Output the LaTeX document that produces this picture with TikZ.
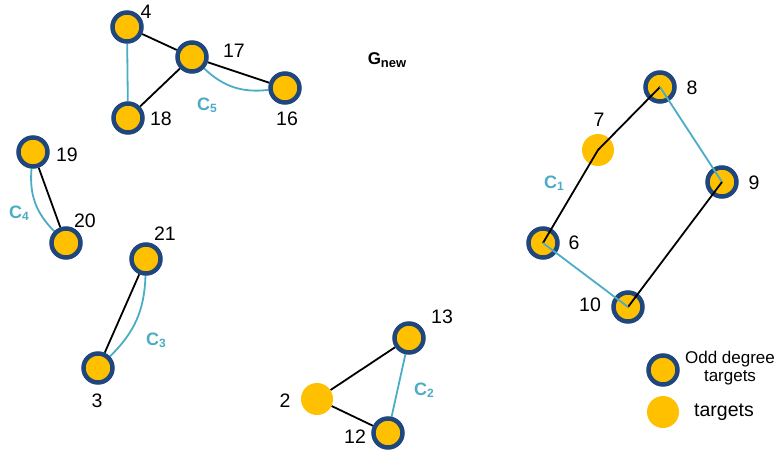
\documentclass[tikz,border=0pt]{standalone}
\usepackage{fontspec}
\setmainfont{Liberation Sans}
\usetikzlibrary{backgrounds}
\definecolor{tgtfill}{HTML}{FFC000}
\definecolor{oddring}{HTML}{1F477D}
\definecolor{cyc}{HTML}{4BACC6}
\newcommand{\cycsub}[1]{\raisebox{-0.2ex}{\fontsize{12}{12}\selectfont #1}}
\tikzset{
  odd/.style={circle, fill=tgtfill, draw=oddring, line width=4.5pt, minimum size=29pt, inner sep=0pt},
  tgt/.style={circle, fill=tgtfill, minimum size=32pt, inner sep=0pt},
  num/.style={font=\fontsize{19.5}{19.5}\selectfont, inner sep=0pt},
  clab/.style={font=\fontsize{18}{18}\selectfont\bfseries, text=cyc, inner sep=0pt},
  blk/.style={draw=black, line width=1.8pt},
  cyl/.style={draw=cyc, line width=1.8pt}
}
\begin{document}
\begin{tikzpicture}[x=1pt,y=-1pt]
\useasboundingbox (0,0) rectangle (784,465);

% component 5
\node[odd] (n4) at (127,27) {};
\node[odd] (n17) at (192,57) {};
\node[odd] (n16) at (285,88) {};
\node[odd] (n18) at (128,118) {};
% component 4
\node[odd] (n19) at (33,152) {};
\node[odd] (n20) at (66,243) {};
% component 3
\node[odd] (n21) at (146,259) {};
\node[odd] (n3) at (98,368) {};
% component 2
\node[tgt] (n2) at (317,399) {};
\node[odd] (n13) at (409,338) {};
\node[odd] (n12) at (388,433) {};
% component 1
\node[odd] (n8) at (660,87) {};
\node[tgt] (n7) at (598,150) {};
\node[odd] (n9) at (722,182) {};
\node[odd] (n6) at (543,243) {};
\node[odd] (n10) at (628,307) {};

\begin{pgfonlayer}{background}
  \draw[blk] (n4) -- (n17);
  \draw[blk] (n17) -- (n18);
  \draw[blk] (n17) -- (n16);
  \draw[cyl] (n4) -- (n18);
  \draw[cyl] (n17) to[bend right=25] (n16);
  \draw[blk] (n19) -- (n20);
  \draw[cyl] (n19) to[bend right=25] (n20);
  \draw[blk] (n21) -- (n3);
  \draw[cyl] (n21) to[bend left=22] (n3);
  \draw[blk] (n2) -- (n13);
  \draw[blk] (n2) -- (n12);
  \draw[cyl] (n13) -- (n12);
\end{pgfonlayer}

% cycle C1 drawn over its nodes
\draw[blk] (n6.center) -- (n7.center) -- (n8.center);
\draw[cyl] (n8.center) -- (n9.center);
\draw[blk] (n9.center) -- (n10.center);
\draw[cyl] (n10.center) -- (n6.center);

% vertex numbers
\node[num] (l4) at (146,12) {4};
\node[num] (l17) at (234,51) {17};
\node[num] (l16) at (287,119) {16};
\node[num] (l18) at (161,119) {18};
\node[num] (l19) at (67,155) {19};
\node[num] (l20) at (85,221) {20};
\node[num] (l21) at (165,234) {21};
\node[num] (l3) at (97,401) {3};
\node[num] (l2) at (285,401) {2};
\node[num] (l13) at (442,317) {13};
\node[num] (l12) at (355,437) {12};
\node[num] (l7) at (599,120) {7};
\node[num] (l8) at (692,88) {8};
\node[num] (l9) at (754,183) {9};
\node[num] (l6) at (574,243) {6};
\node[num] (l10) at (590,305) {10};

% cycle names
\node[clab] (c5) at (207,105) {C\cycsub{5}};
\node[clab] (c4) at (19,213) {C\cycsub{4}};
\node[clab] (c3) at (156,340) {C\cycsub{3}};
\node[clab] (c2) at (424,390) {C\cycsub{2}};
\node[clab] (c1) at (554,183) {C\cycsub{1}};

% title
\node[font=\fontsize{17}{17}\selectfont\bfseries, inner sep=0pt] (title) at (387,60) {G\raisebox{-0.35ex}{\fontsize{13}{13}\selectfont new}};

% legend
\node[odd] (legodd) at (663,370) {};
\node[tgt] (legtgt) at (663,412) {};
\node[font=\fontsize{17}{18.5}\selectfont, align=center, inner sep=0pt] (legt1) at (730,368) {Odd degree\\targets};
\node[font=\fontsize{19.5}{19.5}\selectfont, inner sep=0pt] (legt2) at (724,412) {targets};
\end{tikzpicture}
\end{document}
